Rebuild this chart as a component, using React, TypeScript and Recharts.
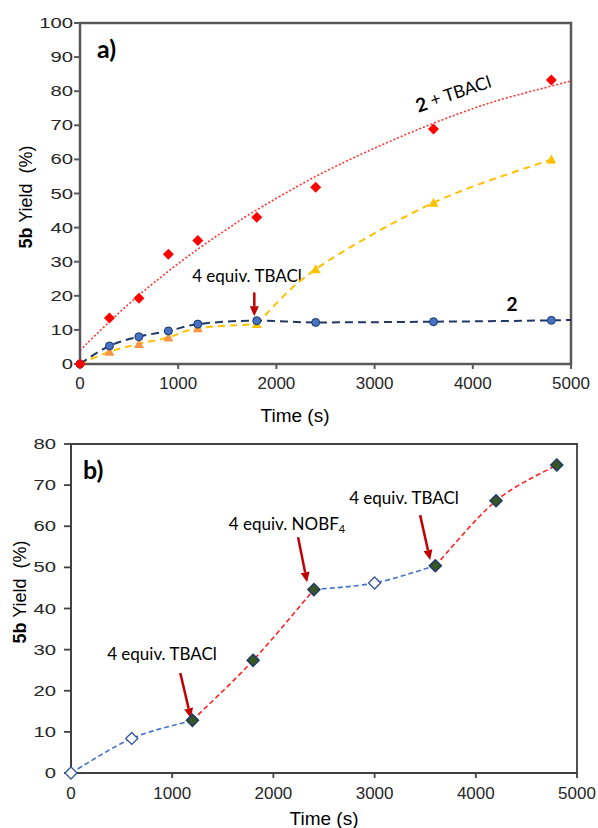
import React from 'react';
import { ComposedChart, Line, Scatter, XAxis, YAxis, ReferenceLine, ReferenceArea } from 'recharts';

const timeTicks = [0, 1000, 2000, 3000, 4000, 5000];
const yieldTicksA = [0, 10, 20, 30, 40, 50, 60, 70, 80, 90, 100];
const yieldTicksB = [0, 10, 20, 30, 40, 50, 60, 70, 80];

// panel a) sampled times (s) and yields (%)
const sampleTimesA = [0, 300, 600, 900, 1200, 1800, 2400, 3600, 4800];
const tbaclYield = [0, 13.5, 19.3, 32.2, 36.2, 43.0, 51.8, 68.9, 83.3];
const twoYield = [0, 5.3, 8.0, 9.7, 11.7, 12.7, 12.2, 12.4, 12.8];
const lateTbaclYield = [0, 3.6, 5.9, 7.8, 10.5, 11.7, 27.8, 47.3, 60.0];
// trend line drawn through "2 + TBACl"
const tbaclFitTimes = [0, 300, 600, 900, 1200, 1500, 1800, 2400, 3000, 3600, 4200, 4800, 5000];
const tbaclFitYield = [4.0, 12.4, 20.2, 27.2, 33.7, 39.6, 45.2, 55.0, 63.3, 70.6, 76.8, 81.5, 83.0];
const twoTail = { x: 5000, y: 12.9 };
const additionTimeA = 1800;

// panel b) sequential additions
const sampleTimesB = [0, 600, 1200, 1800, 2400, 3000, 3600, 4200, 4800];
const seqYield = [0, 8.4, 12.8, 27.4, 44.6, 46.2, 50.4, 66.2, 74.9];
const phaseBounds = [0, 1200, 2400, 3600, 4800];

const zip = (xs: number[], ys: number[]) => xs.map((x, i) => ({ x, y: ys[i] }));

const tbaclPts = zip(sampleTimesA, tbaclYield);
const twoPts = zip(sampleTimesA, twoYield);
const latePts = zip(sampleTimesA, lateTbaclYield);
const lateBefore = latePts.filter(p => p.x <= additionTimeA);
const lateAfter = latePts.filter(p => p.x >= additionTimeA);
const fitPts = zip(tbaclFitTimes, tbaclFitYield);
const seqPts = zip(sampleTimesB, seqYield);

const segments = phaseBounds.slice(0, -1).map((start, i) => ({
    red: i % 2 === 1,
    points: seqPts.filter(p => p.x >= start && p.x <= phaseBounds[i + 1]),
}));
const inRed = (t: number) => segments.some(s => s.red && t >= s.points[0].x && t <= s.points[s.points.length - 1].x);

const FONT = '"Liberation Sans", Arial, sans-serif';
const ANNOT = 'Lato, "Open Sans", sans-serif';

// Excel-like smoothed line (Catmull-Rom through the points)
const smooth: any = (ctx: any) => {
    let pts: number[][] = [];
    return {
        areaStart() {},
        areaEnd() {},
        lineStart() { pts = []; },
        point(x: number, y: number) { pts.push([+x, +y]); },
        lineEnd() {
            if (!pts.length) return;
            ctx.moveTo(pts[0][0], pts[0][1]);
            for (let i = 0; i < pts.length - 1; i++) {
                const p0 = pts[i - 1] || pts[i], p1 = pts[i], p2 = pts[i + 1], p3 = pts[i + 2] || p2;
                ctx.bezierCurveTo(
                    p1[0] + (p2[0] - p0[0]) / 6, p1[1] + (p2[1] - p0[1]) / 6,
                    p2[0] - (p3[0] - p1[0]) / 6, p2[1] - (p3[1] - p1[1]) / 6,
                    p2[0], p2[1]
                );
            }
        },
    };
};

const YTick = (props: any) => (
    <g transform={`translate(${props.x},${props.y})`}>
        <text transform="scale(1.35,1)" textAnchor="end" dominantBaseline="central" fontSize={15} fontFamily={FONT} fill="#262626">
            {props.payload.value}
        </text>
    </g>
);

const Arrow = (props: any) => {
    const { x1, y1, x2, y2 } = props;
    const a = Math.atan2(y2 - y1, x2 - x1);
    const len = 10, w = 4.5;
    const bx = x2 - len * Math.cos(a), by = y2 - len * Math.sin(a);
    const px = -Math.sin(a) * w, py = Math.cos(a) * w;
    return (
        <g>
            <line x1={x1} y1={y1} x2={bx} y2={by} stroke="#C00000" strokeWidth={2.5} />
            <polygon points={`${x2},${y2} ${bx + px},${by + py} ${bx - px},${by - py}`} fill="#C00000" />
        </g>
    );
};

const Diamond = (r: number, fill: string, stroke: string, sw: number) => (p: any) => (
    <polygon points={`${p.cx},${p.cy - r} ${p.cx + r},${p.cy} ${p.cx},${p.cy + r} ${p.cx - r},${p.cy}`} fill={fill} stroke={stroke} strokeWidth={sw} />
);
const Circle = (p: any) => <circle cx={p.cx} cy={p.cy} r={4} fill="#4472C4" stroke="#1F3864" strokeWidth={1} />;
const Triangle = (fill: string) => (p: any) => (
    <polygon points={`${p.cx},${p.cy - 5} ${p.cx + 5},${p.cy + 4} ${p.cx - 5},${p.cy + 4}`} fill={fill} />
);

function PanelA() {
    return (
        <ComposedChart width={598} height={430} margin={{ top: 23, right: 27, left: 0, bottom: 0 }}>
            <XAxis dataKey="x" type="number" domain={[0, 5000]} ticks={timeTicks} height={66}
                tickSize={5} tickMargin={8} stroke="#595959" strokeWidth={2}
                tick={{ fill: '#262626', fontSize: 17, fontFamily: FONT }} />
            <YAxis dataKey="y" type="number" domain={[0, 100]} ticks={yieldTicksA} width={80}
                tickSize={6} tickMargin={1} stroke="#595959" strokeWidth={2} tick={<YTick />} />
            <ReferenceArea x1={0} x2={5000} y1={0} y2={100} fill="none" stroke="#595959" strokeWidth={2.5} />
            <Line data={fitPts} dataKey="y" type={smooth} stroke="#FF3333" strokeWidth={1.6} strokeDasharray="2 2" dot={false} isAnimationActive={false} />
            <Line data={lateBefore} dataKey="y" type={smooth} stroke="#FFC000" strokeWidth={2} strokeDasharray="7 5" dot={false} isAnimationActive={false} />
            <Line data={lateAfter} dataKey="y" type={smooth} stroke="#FFC000" strokeWidth={2} strokeDasharray="7 5" dot={false} isAnimationActive={false} />
            <Line data={[...twoPts, twoTail]} dataKey="y" type="monotone" stroke="#1F3864" strokeWidth={2} strokeDasharray="8 5" dot={false} isAnimationActive={false} />
            <Scatter data={latePts.filter(p => p.x > 0 && p.x < additionTimeA)} dataKey="y" shape={Triangle('#F79646')} isAnimationActive={false} />
            <Scatter data={latePts.filter(p => p.x >= additionTimeA)} dataKey="y" shape={Triangle('#FFC000')} isAnimationActive={false} />
            <Scatter data={twoPts} dataKey="y" shape={Circle} isAnimationActive={false} />
            <Scatter data={tbaclPts} dataKey="y" shape={Diamond(5.5, '#FF0000', 'none', 0)} isAnimationActive={false} />
            <ReferenceLine segment={[{ x: 1775, y: 21 }, { x: 1775, y: 14 }]} shape={Arrow} />
            <text x={97} y={58} fontFamily={ANNOT} fontWeight="bold" fontSize={25} fill="#000">a)</text>
            <text x={247} y={275} textAnchor="middle" dominantBaseline="central" fontFamily={ANNOT} fontSize={17} fill="#000">4 equiv. TBACl</text>
            <text transform="translate(453,93) rotate(-18)" textAnchor="middle" dominantBaseline="central" fontFamily={ANNOT} fontSize={17.5} fill="#000">
                <tspan fontWeight="bold" fontSize={19}>2</tspan> + TBACl
            </text>
            <text x={512} y={303} textAnchor="middle" dominantBaseline="central" fontFamily={ANNOT} fontWeight="bold" fontSize={19} fill="#000">2</text>
            <text transform="translate(26,197) rotate(-90)" textAnchor="middle" dominantBaseline="central" fontFamily={FONT} fontSize={18} fill="#000">
                <tspan fontWeight="bold">5b</tspan> Yield{'\u00a0'} (%)
            </text>
            <text x={295} y={415} textAnchor="middle" dominantBaseline="central" fontFamily={FONT} fontSize={19} fill="#000">Time (s)</text>
        </ComposedChart>
    );
}

function PanelB() {
    return (
        <ComposedChart width={598} height={398} margin={{ top: 14, right: 21, left: 0, bottom: 0 }}>
            <XAxis dataKey="x" type="number" domain={[0, 5000]} ticks={timeTicks} height={55}
                tickSize={5} tickMargin={9} stroke="#404040" strokeWidth={1.8}
                tick={{ fill: '#262626', fontSize: 17, fontFamily: FONT }} />
            <YAxis dataKey="y" type="number" domain={[0, 80]} ticks={yieldTicksB} width={71}
                tickSize={7} tickMargin={8} stroke="#404040" strokeWidth={1.8} tick={<YTick />} />
            <ReferenceArea x1={0} x2={5000} y1={0} y2={80} fill="none" stroke="#404040" strokeWidth={1.8} />
            {segments.map((s, i) => (
                <Line key={i} data={s.points} dataKey="y" type={smooth} stroke={s.red ? '#FF2020' : '#4472C4'}
                    strokeWidth={1.6} strokeDasharray="5 3" dot={false} isAnimationActive={false} />
            ))}
            <Scatter data={seqPts.filter(p => !inRed(p.x))} dataKey="y" shape={Diamond(6, '#FFFFFF', '#2F5597', 1.3)} isAnimationActive={false} />
            <Scatter data={seqPts.filter(p => inRed(p.x))} dataKey="y" shape={Diamond(6, '#375623', '#203864', 1.5)} isAnimationActive={false} />
            <ReferenceLine segment={[{ x: 1080, y: 24.3 }, { x: 1185, y: 13.3 }]} shape={Arrow} />
            <ReferenceLine segment={[{ x: 2244, y: 57.3 }, { x: 2333, y: 46.4 }]} shape={Arrow} />
            <ReferenceLine segment={[{ x: 3450, y: 62.7 }, { x: 3549, y: 51.8 }]} shape={Arrow} />
            <text x={83} y={49} fontFamily={ANNOT} fontWeight="bold" fontSize={25} fill="#000">b)</text>
            <text x={162} y={223} textAnchor="middle" dominantBaseline="central" fontFamily={ANNOT} fontSize={17} fill="#000">4 equiv. TBACl</text>
            <text x={287} y={93} textAnchor="middle" dominantBaseline="central" fontFamily={ANNOT} fontSize={17} fill="#000">
                4 equiv. NOBF<tspan fontSize={11} dy={5}>4</tspan>
            </text>
            <text x={404} y={67} textAnchor="middle" dominantBaseline="central" fontFamily={ANNOT} fontSize={17} fill="#000">4 equiv. TBACl</text>
            <text transform="translate(20,162) rotate(-90)" textAnchor="middle" dominantBaseline="central" fontFamily={FONT} fontSize={18} fill="#000">
                <tspan fontWeight="bold">5b</tspan> Yield{'\u00a0'} (%)
            </text>
            <text x={324} y={388} textAnchor="middle" dominantBaseline="central" fontFamily={FONT} fontSize={19} fill="#000">Time (s)</text>
        </ComposedChart>
    );
}

export default function App() {
    return (
        <div style={{ position: 'absolute', left: 0, top: 0, width: 598, height: 828, background: '#fff' }}>
            <div style={{ position: 'absolute', left: 0, top: 0 }}>
                <PanelA />
            </div>
            <div style={{ position: 'absolute', left: 0, top: 430 }}>
                <PanelB />
            </div>
        </div>
    );
}
